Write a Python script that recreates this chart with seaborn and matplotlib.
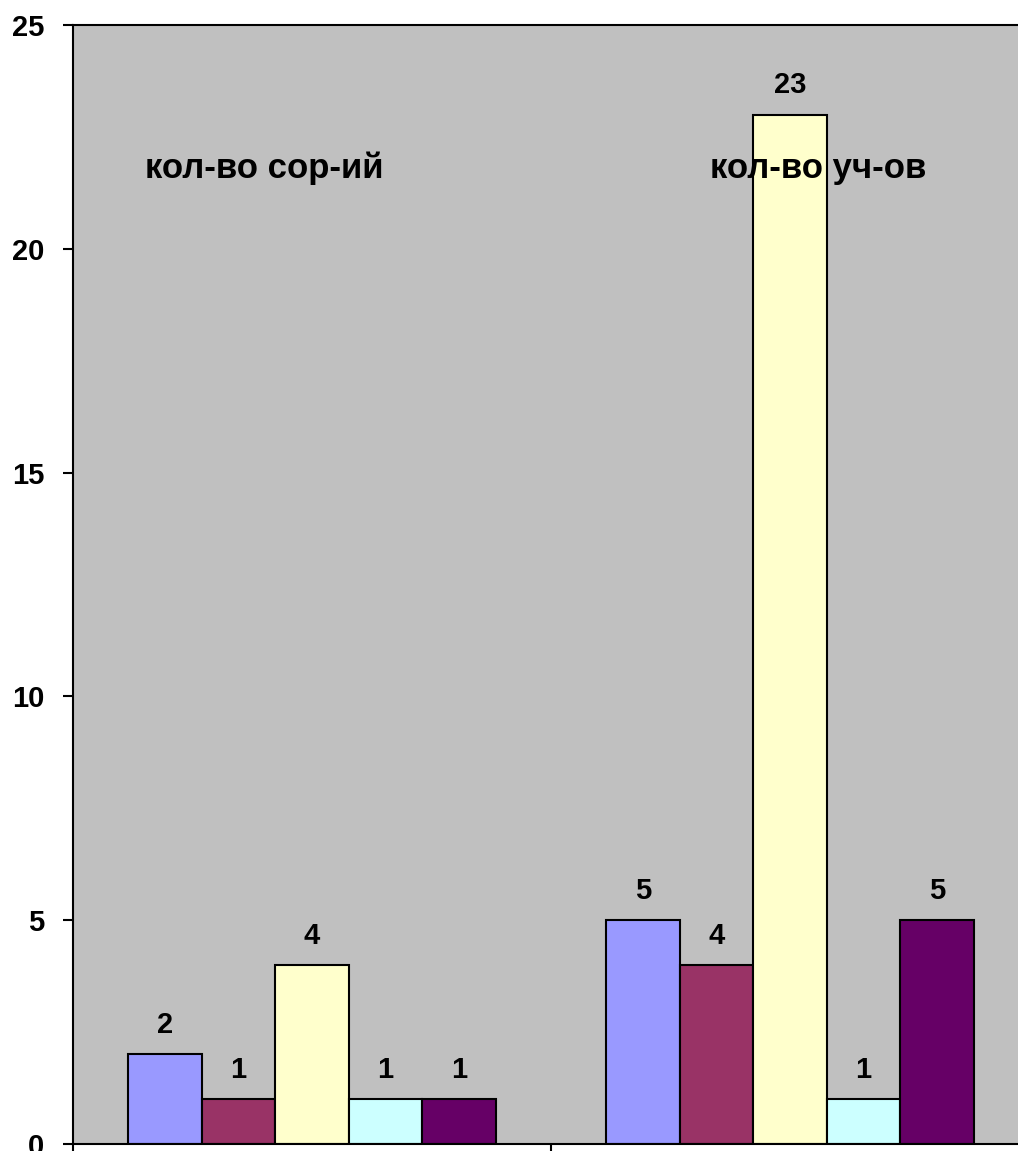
import numpy as np
import pandas as pd
import matplotlib
matplotlib.use("Agg")
import matplotlib.pyplot as plt
import seaborn as sns

# ── Data ──────────────────────────────────────────────────────────────────────
categories = ["кол-во сор-ий", "кол-во уч-ов"]
series     = ["ряд 1", "ряд 2", "ряд 3", "ряд 4", "ряд 5"]
ryad_1 = [2, 5]
ryad_2 = [1, 4]
ryad_3 = [4, 23]
ryad_4 = [1, 1]
ryad_5 = [1, 5]
y_ticks = [0, 5, 10, 15, 20, 25]

COLORS = ["#9999FF", "#993366", "#FFFFCC", "#CCFFFF", "#660066"]
BG     = "#C0C0C0"

rows = []
for name, vals in zip(series, [ryad_1, ryad_2, ryad_3, ryad_4, ryad_5]):
    for cat, v in zip(categories, vals):
        rows.append({"category": cat, "series": name, "value": v})
df = pd.DataFrame(rows)

# ── Style ─────────────────────────────────────────────────────────────────────
sns.set_theme(style="white")
plt.rcParams.update({
    "font.family": ["Liberation Sans", "DejaVu Sans"],
    "font.weight": "bold",
    "text.color":  "black",
    "xtick.color": "black",
    "ytick.color": "black",
    "axes.labelcolor": "black",
})

fig = plt.figure(figsize=(10.18, 11.51), dpi=100)
W, H = 1018, 1151
# plot area runs past the right edge of the picture (cropped original)
ax = fig.add_axes([73 / W, 7 / H, 956 / W, 1119 / H])
ax.set_facecolor(BG)

sns.barplot(data=df, x="category", y="value", hue="series",
            order=categories, hue_order=series, palette=COLORS,
            saturation=1, width=0.77, edgecolor="black", linewidth=1.5,
            legend=False, ax=ax)

for cont in ax.containers:
    ax.bar_label(cont, fmt="%d", padding=11, fontsize=21,
                 fontweight="bold", color="black")

# category captions drawn inside the plot area, as in the original
for i, cat in enumerate(categories):
    ax.text(i - 0.1 + 0.16 * i, 21.8, cat, ha="center", va="center",
            fontsize=25, fontweight="bold", color="black")

ax.set_xlim(-0.5, 1.5)
ax.set_ylim(0, 25)
ax.set_yticks(y_ticks)
ax.set_yticklabels([str(t) for t in y_ticks], fontsize=21, fontweight="bold")
ax.set_xticks([])
ax.set_xticks([-0.5, 0.5, 1.5], minor=True)
ax.tick_params(axis="x", which="minor", bottom=True, direction="out",
               length=8, width=1.5, color="black")
ax.tick_params(axis="y", left=True, direction="out", length=7.5, width=1.5,
               color="black", pad=13)
ax.set_xlabel("")
ax.set_ylabel("")

for side in ["left", "bottom", "top"]:
    ax.spines[side].set_visible(True)
    ax.spines[side].set_color("black")
    ax.spines[side].set_linewidth(1.5)
ax.spines["right"].set_visible(False)

fig.savefig("out.png", dpi=100, facecolor="white")
